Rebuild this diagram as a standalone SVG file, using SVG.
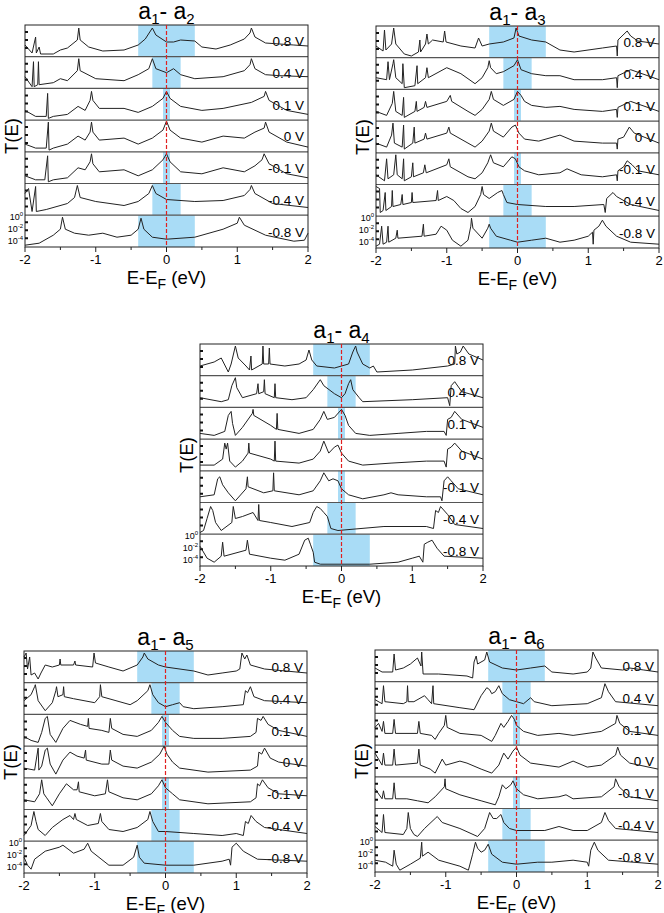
<svg xmlns="http://www.w3.org/2000/svg" width="664" height="913" viewBox="0 0 664 913">
<style>
.c{fill:none;stroke:#222;stroke-width:1;vector-effect:non-scaling-stroke;stroke-linejoin:round}
.sh{fill:#a9dcf6}
.sep{stroke:#555;stroke-width:1.2}
.fr{fill:none;stroke:#222;stroke-width:1}
.rd{stroke:#e02020;stroke-width:1.2;stroke-dasharray:4,2}
.tk{stroke:#222;stroke-width:1}
.yt{stroke:#111;stroke-width:2}
text{font-family:"Liberation Sans",Arial,sans-serif;fill:#000}
.rl{font-size:13.5px;text-anchor:end}
.tl{font-size:13px;text-anchor:middle}
.ax{font-size:18.5px;text-anchor:middle}
.ti{font-size:23px;text-anchor:middle}
.yl{font-size:9px;text-anchor:end}
</style>
<defs>
<g id="frame">
<rect class="sh" x="113.2" y="0" width="56.6" height="31.7"/>
<rect class="sh" x="127.35" y="31.7" width="28.3" height="31.7"/>
<rect class="sh" x="138" y="63.4" width="7" height="31.7"/>
<rect class="sh" x="138" y="126.8" width="7" height="31.7"/>
<rect class="sh" x="127.35" y="158.5" width="28.3" height="31.7"/>
<rect class="sh" x="113.2" y="190.2" width="56.6" height="31.8"/>
<line class="sep" x1="0" y1="31.7" x2="283" y2="31.7"/>
<line class="sep" x1="0" y1="63.4" x2="283" y2="63.4"/>
<line class="sep" x1="0" y1="95.1" x2="283" y2="95.1"/>
<line class="sep" x1="0" y1="126.8" x2="283" y2="126.8"/>
<line class="sep" x1="0" y1="158.5" x2="283" y2="158.5"/>
<line class="sep" x1="0" y1="190.2" x2="283" y2="190.2"/>
<rect class="fr" x="0" y="0" width="283" height="222"/>
<path class="tk" d="M0,222v5M35.4,222v3M70.75,222v5M106.1,222v3M141.5,222v5M176.9,222v3M212.25,222v5M247.6,222v3M283,222v5"/>
<path class="yt" d="M0,7h3M0,15h3M0,23h3M0,38.7h3M0,46.7h3M0,54.7h3M0,70.4h3M0,78.4h3M0,86.4h3M0,102.1h3M0,110.1h3M0,118.1h3M0,133.8h3M0,141.8h3M0,149.8h3M0,165.5h3M0,173.5h3M0,181.5h3M0,197.2h3M0,205.2h3M0,213.2h3"/>
<text class="tl" x="0" y="239">-2</text>
<text class="tl" x="70.75" y="239">-1</text>
<text class="tl" x="141.5" y="239">0</text>
<text class="tl" x="212.25" y="239">1</text>
<text class="tl" x="283" y="239">2</text>
<text class="ax" x="141.5" y="259">E-E<tspan font-size="14px" dy="5">F</tspan><tspan dy="-5"> (eV)</tspan></text>
<text class="ax" transform="translate(-7,111) rotate(-90)">T(E)</text>
<text class="yl" x="-2" y="195">10<tspan font-size="6px" dy="-4">0</tspan></text>
<text class="yl" x="-2" y="207">10<tspan font-size="6px" dy="-4">-2</tspan></text>
<text class="yl" x="-2" y="219">10<tspan font-size="6px" dy="-4">-4</tspan></text>
<text class="rl" x="279" y="21">0.8 V</text>
<text class="rl" x="279" y="53">0.4 V</text>
<text class="rl" x="279" y="85">0.1 V</text>
<text class="rl" x="279" y="116">0 V</text>
<text class="rl" x="279" y="148">-0.1 V</text>
<text class="rl" x="279" y="180">-0.4 V</text>
<text class="rl" x="279" y="212">-0.8 V</text>
</g>
</defs>

<g id="panel-a1-a2" transform="translate(25,25)">
<use href="#frame"/>
<text class="ti" x="141.5" y="-6">a<tspan font-size="15px" dy="5">1</tspan><tspan dy="-5">- a</tspan><tspan font-size="15px" dy="5">2</tspan></text>
<g transform="translate(141.5,0) scale(0.7075,1)">
<path class="c" d="M-200,20 L-190,28 L-185,12 L-184,28 L-180,22 L-178,29 L-160,29 L-150,25 L-140,23 L-126,15 L-124,3 L-122,15 L-110,22 L-90,26 L-60,25 L-40,20 L-30,14 L-20,3 L-15,10 L0,17 L10,17 L20,15 L40,16 L50,22 L70,24 L90,20 L110,14 L118,8 L120,3 L125,12 L140,18 L160,19 L180,20 L200,21"/>
<path class="c" transform="translate(0,31.7)" d="M-200,20 L-190,30 L-188,5 L-187,30 L-182,28 L-181,5 L-180,28 L-160,26 L-150,22 L-140,24 L-126,14 L-124,2 L-122,14 L-100,22 L-60,24 L-40,18 L-25,12 L-20,2 L-15,12 L0,16 L10,12 L20,18 L40,22 L80,20 L110,14 L118,8 L120,2 L125,12 L140,18 L160,19 L200,20"/>
<path class="c" transform="translate(0,63.4)" d="M-200,22 L-185,28 L-170,28 L-168,5 L-167,30 L-160,28 L-140,26 L-125,18 L-115,22 L-108,12 L-106,3 L-104,12 L-95,20 L-60,20 L-40,24 L-20,18 L-5,10 L0,3 L5,10 L20,18 L50,22 L80,20 L120,14 L138,8 L140,3 L145,12 L170,22 L200,26"/>
<path class="c" transform="translate(0,95.1)" d="M-200,24 L-185,28 L-170,28 L-167,2 L-166,30 L-160,28 L-140,24 L-125,16 L-115,20 L-108,12 L-106,2 L-104,12 L-95,20 L-60,18 L-40,24 L-20,18 L-5,10 L0,1 L5,10 L20,18 L50,22 L80,16 L110,18 L125,12 L138,8 L140,2 L145,12 L170,22 L200,27"/>
<path class="c" transform="translate(0,126.8)" d="M-200,24 L-185,28 L-172,28 L-168,4 L-167,30 L-160,28 L-140,26 L-125,16 L-115,18 L-108,10 L-106,2 L-104,12 L-95,20 L-60,18 L-40,24 L-20,18 L-5,8 L0,2 L5,10 L20,20 L50,22 L80,16 L110,20 L125,14 L135,8 L138,2 L145,12 L170,22 L200,26"/>
<path class="c" transform="translate(0,158.5)" d="M-200,10 L-195,5 L-190,28 L-185,3 L-184,28 L-170,26 L-140,20 L-130,14 L-126,2 L-122,14 L-100,18 L-60,22 L-40,18 L-25,10 L-20,2 L-15,10 L0,16 L40,18 L80,17 L110,12 L118,6 L120,2 L125,10 L150,20 L200,24"/>
<path class="c" transform="translate(0,190.2)" d="M-200,30 L-180,28 L-160,20 L-150,14 L-147,2 L-143,14 L-130,18 L-110,20 L-90,18 L-70,22 L-50,20 L-40,14 L-36,3 L-32,14 L-20,22 L0,24 L40,22 L80,14 L100,8 L103,2 L110,10 L140,20 L180,26 L195,25 L200,18"/>
</g>
<line class="rd" x1="141.5" y1="0" x2="141.5" y2="222"/>
</g>

<g id="panel-a1-a3" transform="translate(376,26)">
<use href="#frame"/>
<text class="ti" x="141.5" y="-6">a<tspan font-size="15px" dy="5">1</tspan><tspan dy="-5">- a</tspan><tspan font-size="15px" dy="5">3</tspan></text>
<g transform="translate(141.5,0) scale(0.7075,1)">
<path class="c" d="M-200,20 L-190,25 L-188,4 L-186,24 L-178,18 L-175,2 L-172,18 L-160,28 L-150,30 L-140,26 L-138,14 L-137,26 L-130,18 L-128,8 L-126,18 L-120,14 L-105,16 L-103,5 L-101,16 L-80,20 L-60,22 L-55,12 L-50,20 L-40,18 L-20,16 L-5,12 L-2,2 L2,10 L20,14 L40,16 L60,24 L80,26 L120,22 L140,20 L141,30 L142,14 L155,5 L160,10 L170,15 L200,18"/>
<path class="c" transform="translate(0,31.7)" d="M-200,20 L-185,22 L-183,4 L-181,22 L-176,6 L-175,2 L-172,20 L-163,26 L-162,6 L-160,30 L-145,28 L-142,8 L-141,26 L-130,20 L-128,10 L-126,20 L-100,10 L-80,16 L-60,26 L-50,20 L-42,10 L-40,3 L-38,10 L-30,16 L-20,14 L-5,8 L0,2 L5,12 L20,16 L40,18 L60,18 L80,22 L120,22 L140,20 L141,30 L142,18 L160,12 L200,22"/>
<path class="c" transform="translate(0,63.4)" d="M-200,22 L-185,26 L-177,14 L-175,2 L-172,22 L-163,26 L-161,8 L-160,28 L-145,22 L-143,12 L-142,22 L-132,18 L-130,12 L-128,18 L-100,12 L-95,6 L-93,12 L-70,22 L-60,26 L-50,20 L-40,10 L-37,2 L-34,10 L-20,16 L-5,10 L0,2 L5,6 L10,12 L20,16 L40,18 L60,17 L80,20 L120,22 L140,20 L141,28 L142,18 L160,12 L200,22"/>
<path class="c" transform="translate(0,95.1)" d="M-200,22 L-185,26 L-178,14 L-176,2 L-174,22 L-163,26 L-161,4 L-160,28 L-148,22 L-146,6 L-145,22 L-132,18 L-130,12 L-128,18 L-100,12 L-97,6 L-95,12 L-70,22 L-60,26 L-50,20 L-40,10 L-37,2 L-34,10 L-20,16 L-8,6 L-3,4 L2,12 L10,18 L30,20 L60,14 L80,20 L120,22 L140,22 L141,28 L142,18 L150,16 L158,6 L165,12 L200,22"/>
<path class="c" transform="translate(0,126.8)" d="M-200,22 L-188,28 L-185,6 L-183,26 L-175,22 L-172,2 L-170,22 L-163,26 L-161,6 L-160,28 L-150,24 L-148,10 L-147,24 L-133,20 L-131,12 L-129,20 L-100,12 L-97,6 L-95,14 L-70,24 L-60,26 L-50,20 L-42,10 L-38,2 L-34,10 L-20,14 L-8,4 L-3,6 L2,14 L10,18 L30,22 L60,20 L70,16 L90,22 L120,24 L140,22 L141,28 L142,18 L150,14 L155,8 L162,12 L170,18 L200,22"/>
<path class="c" transform="translate(0,158.5)" d="M-200,2 L-195,4 L-194,28 L-190,26 L-187,8 L-186,26 L-178,22 L-177,6 L-176,22 L-165,20 L-163,10 L-162,20 L-150,18 L-149,8 L-148,18 L-115,16 L-113,6 L-112,16 L-100,12 L-90,16 L-80,24 L-70,28 L-60,22 L-52,10 L-50,2 L-48,10 L-40,14 L-28,8 L-22,6 L-20,10 L-15,18 L0,20 L40,22 L80,22 L122,20 L124,28 L126,14 L135,8 L140,12 L160,20 L200,26"/>
<path class="c" transform="translate(0,190.2)" d="M-200,30 L-195,28 L-192,10 L-190,28 L-185,26 L-183,10 L-182,26 L-172,22 L-170,14 L-169,22 L-135,20 L-133,8 L-132,20 L-115,18 L-108,10 L-100,14 L-92,24 L-80,30 L-70,24 L-66,10 L-65,2 L-63,12 L-50,22 L-42,12 L-40,8 L-38,12 L-30,20 L-10,24 L0,26 L20,24 L40,22 L60,26 L80,24 L100,20 L106,16 L107,28 L108,14 L115,10 L120,4 L125,10 L140,20 L160,26 L200,28"/>
</g>
<line class="rd" x1="141.5" y1="0" x2="141.5" y2="222"/>
</g>

<g id="panel-a1-a4" transform="translate(200,344)">
<use href="#frame"/>
<text class="ti" x="141.5" y="-6">a<tspan font-size="15px" dy="5">1</tspan><tspan dy="-5">- a</tspan><tspan font-size="15px" dy="5">4</tspan></text>
<g transform="translate(141.5,0) scale(0.7075,1)">
<path class="c" d="M-200,22 L-180,18 L-170,14 L-160,28 L-156,20 L-150,2 L-146,14 L-135,22 L-130,26 L-128,12 L-127,26 L-112,20 L-111,2 L-110,20 L-103,20 L-102,4 L-101,20 L-80,22 L-60,20 L-50,16 L-46,6 L-42,16 L-35,22 L-10,24 L0,22 L10,20 L16,8 L20,2 L22,8 L30,20 L40,24 L45,22 L50,28 L100,26 L150,22 L160,20 L161,2 L163,10 L168,8 L172,2 L180,10 L200,16"/>
<path class="c" transform="translate(0,31.7)" d="M-200,22 L-170,26 L-160,24 L-155,10 L-150,2 L-148,12 L-140,22 L-120,18 L-118,8 L-117,18 L-110,16 L-109,4 L-108,18 L-95,22 L-94,8 L-93,22 L-70,24 L-50,22 L-40,14 L-30,4 L-25,10 L-10,18 L0,22 L5,18 L10,8 L13,4 L16,14 L25,22 L30,26 L100,24 L150,22 L153,30 L155,10 L160,6 L170,16 L200,22"/>
<path class="c" transform="translate(0,63.4)" d="M-200,26 L-180,28 L-165,24 L-160,8 L-156,4 L-154,16 L-150,28 L-140,20 L-126,6 L-125,2 L-124,8 L-100,18 L-92,22 L-91,6 L-90,22 L-60,26 L-40,22 L-30,12 L-25,4 L-20,12 L-10,10 L0,2 L5,8 L10,18 L20,26 L40,28 L80,26 L120,24 L145,24 L148,28 L150,12 L155,10 L160,4 L170,12 L200,20"/>
<path class="c" transform="translate(0,95.1)" d="M-200,26 L-180,26 L-168,20 L-165,4 L-163,10 L-161,4 L-158,22 L-150,28 L-140,22 L-132,14 L-131,4 L-130,14 L-100,20 L-95,22 L-94,2 L-93,22 L-60,24 L-40,20 L-30,12 L-25,2 L-18,14 L-10,8 L-5,6 L0,14 L10,22 L30,26 L70,24 L120,22 L145,22 L148,28 L150,10 L155,8 L160,4 L170,12 L200,20"/>
<path class="c" transform="translate(0,126.8)" d="M-200,26 L-180,24 L-175,8 L-172,6 L-168,14 L-160,22 L-150,30 L-135,18 L-133,6 L-132,16 L-110,22 L-97,20 L-96,2 L-95,20 L-60,24 L-40,20 L-30,10 L-25,2 L-18,10 L-12,8 L-5,10 L0,18 L10,24 L30,28 L60,24 L70,22 L80,24 L120,26 L140,26 L142,30 L145,10 L150,6 L155,10 L165,18 L200,24"/>
<path class="c" transform="translate(0,158.5)" d="M-200,30 L-195,28 L-190,16 L-185,4 L-182,8 L-178,20 L-170,28 L-155,20 L-153,4 L-150,16 L-140,14 L-125,10 L-118,18 L-117,2 L-116,18 L-100,20 L-70,24 L-45,20 L-40,10 L-35,4 L-30,6 L-25,10 L-20,14 L-15,26 L-5,28 L60,24 L120,24 L130,26 L133,8 L137,10 L140,4 L150,12 L160,22 L200,26"/>
<path class="c" transform="translate(0,190.2)" d="M-200,12 L-190,24 L-180,28 L-170,22 L-168,8 L-166,22 L-135,16 L-133,6 L-130,20 L-100,24 L-80,26 L-60,20 L-52,6 L-47,4 L-44,10 L-40,18 L-38,28 L-30,30 L0,30 L40,30 L80,28 L100,24 L110,22 L115,28 L117,10 L122,8 L128,6 L135,14 L145,22 L200,24"/>
</g>
<line class="rd" x1="141.5" y1="0" x2="141.5" y2="222"/>
</g>

<g id="panel-a1-a5" transform="translate(24,651)">
<use href="#frame"/>
<text class="ti" x="141.5" y="-6">a<tspan font-size="15px" dy="5">1</tspan><tspan dy="-5">- a</tspan><tspan font-size="15px" dy="5">5</tspan></text>
<g transform="translate(141.5,0) scale(0.7075,1)">
<path class="c" d="M-200,6 L-197,2 L-195,18 L-192,6 L-190,24 L-185,22 L-180,28 L-176,22 L-170,14 L-160,16 L-150,14 L-149,8 L-148,14 L-130,14 L-128,10 L-127,14 L-103,16 L-101,2 L-99,12 L-80,16 L-60,20 L-40,14 L-32,6 L-30,2 L-25,8 L-10,14 L0,16 L40,20 L60,24 L80,22 L100,20 L105,18 L108,2 L112,8 L115,4 L120,14 L140,18 L200,22"/>
<path class="c" transform="translate(0,31.7)" d="M-200,18 L-190,12 L-185,4 L-184,2 L-180,18 L-170,28 L-160,20 L-155,8 L-154,4 L-152,14 L-145,12 L-144,4 L-143,14 L-130,16 L-100,20 L-93,14 L-92,2 L-90,14 L-70,18 L-50,22 L-40,18 L-25,8 L-22,2 L-18,12 L-10,20 L0,24 L10,22 L20,20 L25,24 L40,26 L80,24 L110,22 L113,8 L116,10 L120,4 L125,14 L140,18 L200,20"/>
<path class="c" transform="translate(0,63.4)" d="M-200,22 L-190,26 L-180,28 L-175,18 L-170,4 L-167,2 L-163,20 L-155,28 L-145,14 L-135,6 L-120,10 L-110,12 L-109,4 L-108,14 L-90,16 L-80,18 L-78,4 L-76,14 L-60,20 L-40,22 L-20,16 L-10,8 L-5,2 L0,8 L10,16 L20,22 L40,24 L80,24 L120,22 L128,18 L130,4 L135,6 L138,2 L145,10 L160,16 L200,22"/>
<path class="c" transform="translate(0,95.1)" d="M-200,22 L-185,24 L-180,2 L-179,24 L-175,20 L-170,4 L-167,2 L-163,18 L-155,28 L-145,14 L-135,6 L-125,10 L-115,12 L-113,4 L-112,14 L-90,18 L-80,18 L-78,4 L-76,14 L-60,20 L-40,22 L-20,16 L-8,8 L-2,0 L2,8 L10,16 L20,22 L60,26 L120,24 L130,20 L132,6 L136,8 L140,2 L148,12 L160,16 L200,20"/>
<path class="c" transform="translate(0,126.8)" d="M-200,22 L-185,24 L-178,16 L-175,2 L-172,16 L-168,20 L-160,28 L-150,16 L-140,6 L-130,12 L-125,12 L-123,4 L-122,14 L-100,18 L-85,16 L-82,2 L-80,14 L-60,20 L-40,22 L-20,16 L-10,8 L-5,2 L0,10 L10,16 L20,22 L60,26 L120,24 L128,20 L130,6 L133,8 L137,2 L145,10 L160,16 L200,18"/>
<path class="c" transform="translate(0,158.5)" d="M-200,26 L-190,16 L-186,2 L-183,12 L-180,20 L-170,26 L-160,18 L-145,10 L-135,6 L-130,10 L-128,4 L-126,10 L-110,16 L-95,14 L-92,4 L-90,12 L-80,20 L-60,22 L-40,18 L-25,10 L-22,2 L-18,12 L-10,22 L0,22 L40,24 L80,26 L100,24 L110,26 L113,12 L117,14 L121,6 L128,12 L140,18 L200,24"/>
<path class="c" transform="translate(0,190.2)" d="M-200,16 L-195,24 L-190,28 L-185,18 L-170,10 L-150,6 L-145,4 L-130,12 L-115,8 L-110,2 L-105,10 L-80,24 L-60,24 L-45,16 L-40,4 L-37,16 L-30,22 L0,24 L40,24 L80,20 L90,18 L92,24 L94,6 L100,2 L110,10 L130,18 L200,20"/>
</g>
<line class="rd" x1="141.5" y1="0" x2="141.5" y2="222"/>
</g>

<g id="panel-a1-a6" transform="translate(375,650)">
<use href="#frame"/>
<text class="ti" x="141.5" y="-6">a<tspan font-size="15px" dy="5">1</tspan><tspan dy="-5">- a</tspan><tspan font-size="15px" dy="5">6</tspan></text>
<g transform="translate(141.5,0) scale(0.7075,1)">
<path class="c" d="M-200,18 L-190,22 L-175,22 L-173,4 L-171,20 L-160,18 L-150,14 L-140,8 L-135,16 L-134,2 L-132,24 L-110,24 L-70,26 L-62,28 L-60,12 L-57,6 L-55,14 L-45,10 L-42,2 L-38,12 L-20,18 L0,20 L20,18 L40,16 L50,22 L80,24 L100,22 L105,18 L108,2 L112,8 L120,18 L150,20 L160,18 L180,20 L200,22"/>
<path class="c" transform="translate(0,31.7)" d="M-200,18 L-190,22 L-188,4 L-186,20 L-160,22 L-155,20 L-154,4 L-153,20 L-145,20 L-130,14 L-125,18 L-120,22 L-118,4 L-117,22 L-80,26 L-60,28 L-50,14 L-42,6 L-38,8 L-35,12 L-30,10 L-25,4 L-20,12 L-10,18 L0,20 L10,22 L20,16 L25,20 L50,24 L100,22 L120,16 L125,2 L130,10 L140,20 L200,24"/>
<path class="c" transform="translate(0,63.4)" d="M-200,14 L-195,10 L-190,18 L-188,8 L-186,20 L-175,20 L-173,6 L-171,20 L-140,20 L-138,8 L-136,20 L-120,22 L-115,26 L-110,20 L-102,12 L-100,2 L-98,14 L-80,20 L-50,22 L-35,28 L-30,22 L-22,10 L-18,14 L-12,8 L-7,2 L-3,6 L0,12 L10,18 L30,22 L60,20 L80,22 L120,18 L140,10 L142,2 L146,10 L160,18 L200,22"/>
<path class="c" transform="translate(0,95.1)" d="M-200,8 L-195,14 L-190,20 L-188,8 L-186,20 L-175,20 L-173,4 L-171,20 L-140,18 L-138,4 L-136,20 L-122,24 L-115,28 L-105,14 L-100,20 L-80,16 L-70,18 L-50,24 L-35,28 L-25,20 L-18,8 L-12,14 L-5,6 L0,2 L5,10 L20,18 L60,22 L80,16 L100,22 L120,20 L140,10 L143,2 L147,10 L160,18 L200,24"/>
<path class="c" transform="translate(0,126.8)" d="M-200,12 L-190,22 L-188,14 L-186,22 L-175,22 L-173,6 L-171,22 L-155,22 L-140,24 L-125,26 L-115,20 L-102,10 L-101,2 L-100,12 L-80,18 L-50,24 L-30,28 L-25,20 L-20,8 L-15,12 L-8,8 L-5,4 L0,12 L10,18 L30,22 L60,20 L70,18 L80,22 L120,20 L138,10 L140,2 L145,10 L160,20 L200,24"/>
<path class="c" transform="translate(0,158.5)" d="M-200,18 L-190,24 L-188,6 L-186,24 L-160,26 L-155,20 L-153,4 L-150,20 L-145,26 L-140,28 L-130,20 L-115,10 L-112,8 L-105,14 L-80,20 L-55,28 L-45,20 L-38,4 L-33,10 L-28,10 L-22,6 L-18,14 L-10,20 L0,22 L40,22 L60,18 L80,22 L100,22 L120,14 L125,4 L130,12 L140,20 L200,24"/>
<path class="c" transform="translate(0,190.2)" d="M-200,20 L-185,22 L-175,26 L-173,10 L-170,24 L-165,30 L-150,24 L-136,18 L-134,2 L-133,16 L-125,12 L-110,20 L-80,26 L-68,30 L-62,14 L-58,2 L-55,8 L-50,12 L-45,10 L-40,4 L-35,14 L-20,22 L0,24 L30,22 L50,22 L80,20 L100,22 L102,26 L105,10 L110,2 L115,10 L130,20 L200,24"/>
</g>
<line class="rd" x1="141.5" y1="0" x2="141.5" y2="222"/>
</g>
</svg>
